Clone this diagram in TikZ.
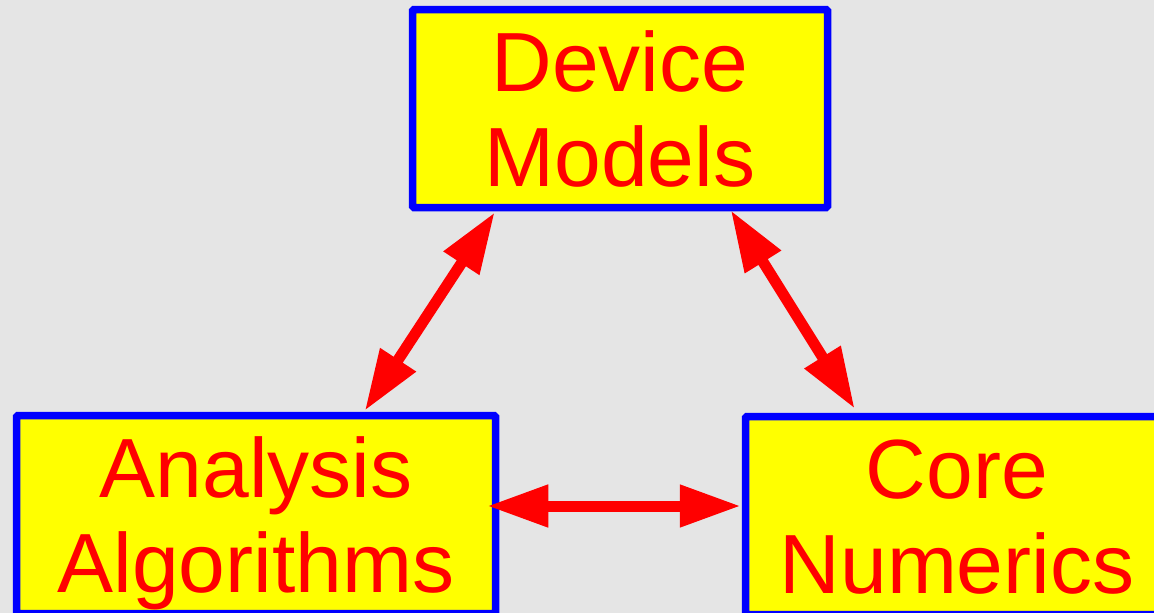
\documentclass[tikz,border=0pt]{standalone}
\usepackage{fontspec}
\setmainfont{Liberation Sans}
\usetikzlibrary{arrows.meta}
\definecolor{bg}{HTML}{E5E5E5}
\definecolor{boxfill}{HTML}{FFFF00}
\definecolor{boxline}{HTML}{0000FF}
\definecolor{ink}{HTML}{FF0000}
\tikzset{
  box/.style={draw=boxline, fill=boxfill, line width=7.5pt, rounded corners=1.5pt,
    text=ink, align=center, inner sep=0pt, minimum height=198pt,
    font=\fontsize{84}{94.5}\selectfont, text height=155.5pt, text depth=0pt},
  link/.style={draw=ink, line width=11pt,
    {Triangle[length=61pt,width=40pt]}-{Triangle[length=61pt,width=40pt]}}
}
\begin{document}
\begin{tikzpicture}[x=1pt,y=-1pt]
\fill[bg] (0,0) rectangle (1154,613);
\useasboundingbox (0,0) rectangle (1154,613);
\node[box, minimum width=415pt] (dev) at (620,108.5) {Device\\Models};
\node[box, minimum width=479pt] (ana) at (256,514.5) {Analysis\\Algorithms};
\node[box, minimum width=423pt] (core) at (957,515.5) {Core\\Numerics};
\coordinate (d1) at ([xshift=86pt,yshift=-1pt]dev.south west);
\coordinate (d2) at ([xshift=322pt,yshift=1pt]dev.south west);
\coordinate (a1) at ([xshift=352pt,yshift=1pt]ana.north west);
\coordinate (c1) at ([xshift=113pt,yshift=4pt]core.north west);
\coordinate (a2) at ([xshift=-12pt,yshift=8.5pt]ana.east);
\coordinate (c2) at ([xshift=-1pt,yshift=9.5pt]core.west);
\draw[link] (d1) -- (a1);
\draw[link] (d2) -- (c1);
\draw[link] (a2) -- (c2);
\end{tikzpicture}
\end{document}
